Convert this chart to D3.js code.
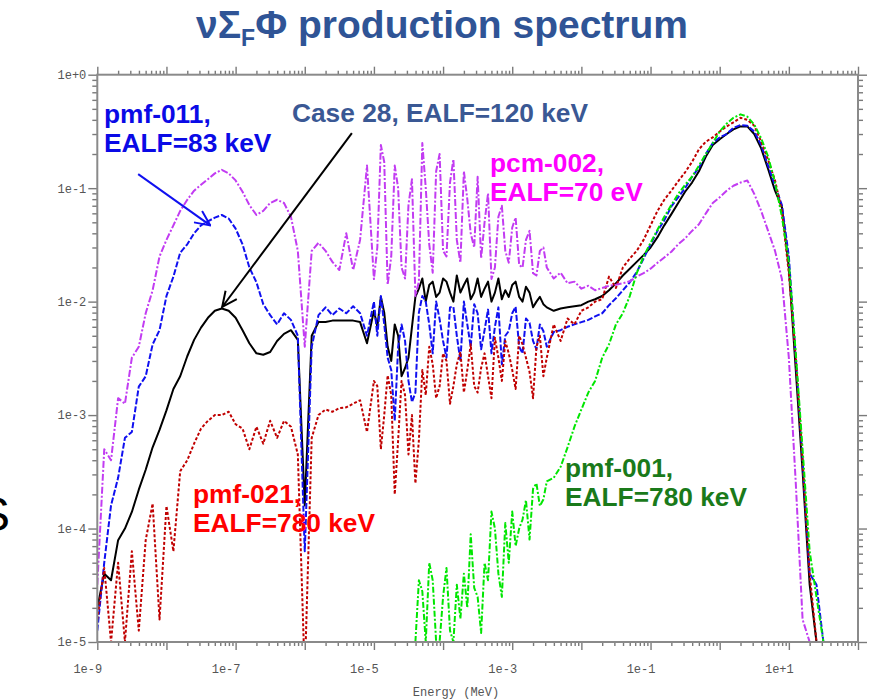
<!DOCTYPE html>
<html>
<head>
<meta charset="utf-8">
<script src="https://cdn.jsdelivr.net/npm/d3@7"></script>
<style>
body { margin: 0; background: #fff; }
svg { display: block; }
.note { font-family: "Liberation Sans", Arial, sans-serif; font-weight: bold; font-size: 26.3px; }
</style>
</head>
<body>
<svg id="chart" width="883" height="700"></svg>
<script>
// energy grid (MeV): tenth-of-a-decade steps, twentieth between 1e-5 and 3e-3
var energy = [
  1.00e-9,1.26e-9,1.58e-9,2.00e-9,2.51e-9,3.16e-9,3.98e-9,5.01e-9,6.31e-9,7.94e-9,
  1.00e-8,1.26e-8,1.58e-8,2.00e-8,2.51e-8,3.16e-8,3.98e-8,5.01e-8,6.31e-8,7.94e-8,
  1.00e-7,1.26e-7,1.58e-7,2.00e-7,2.51e-7,3.16e-7,3.98e-7,5.01e-7,6.31e-7,7.94e-7,
  1.00e-6,1.26e-6,1.58e-6,2.00e-6,2.51e-6,3.16e-6,3.98e-6,5.01e-6,6.31e-6,7.94e-6,
  1.00e-5,1.12e-5,1.26e-5,1.41e-5,1.58e-5,1.78e-5,2.00e-5,2.24e-5,2.51e-5,2.82e-5,
  3.16e-5,3.55e-5,3.98e-5,4.47e-5,5.01e-5,5.62e-5,6.31e-5,7.08e-5,7.94e-5,8.91e-5,
  1.00e-4,1.12e-4,1.26e-4,1.41e-4,1.58e-4,1.78e-4,2.00e-4,2.24e-4,2.51e-4,2.82e-4,
  3.16e-4,3.55e-4,3.98e-4,4.47e-4,5.01e-4,5.62e-4,6.31e-4,7.08e-4,7.94e-4,8.91e-4,
  1.00e-3,1.12e-3,1.26e-3,1.41e-3,1.58e-3,1.78e-3,2.00e-3,2.24e-3,2.51e-3,2.82e-3,
  3.16e-3,3.98e-3,5.01e-3,6.31e-3,7.94e-3,
  1.00e-2,1.26e-2,1.58e-2,2.00e-2,2.51e-2,3.16e-2,3.98e-2,5.01e-2,6.31e-2,7.94e-2,
  1.00e-1,1.26e-1,1.58e-1,2.00e-1,2.51e-1,3.16e-1,3.98e-1,5.01e-1,6.31e-1,7.94e-1,
  1.00e+0,1.26e+0,1.58e+0,2.00e+0,2.51e+0,3.16e+0,3.98e+0,5.01e+0,6.31e+0,7.94e+0,
  1.00e+1,1.26e+1,1.58e+1,2.00e+1,2.51e+1,3.16e+1,3.98e+1
];

// Case 28, EALF=120 keV (black, solid)
var case28 = [
  2.0e-5,4.0e-5,3.5e-5,7.9e-5,1.0e-4,1.4e-4,2.2e-4,3.3e-4,5.2e-4,7.4e-4,
  1.1e-3,1.7e-3,2.2e-3,3.3e-3,4.6e-3,5.9e-3,7.2e-3,8.3e-3,8.7e-3,8.3e-3,
  7.2e-3,5.6e-3,4.3e-3,3.5e-3,3.4e-3,3.6e-3,4.5e-3,5.2e-3,5.6e-3,4.6e-3,
  1.6e-4,5.0e-3,6.6e-3,6.6e-3,6.8e-3,6.8e-3,6.8e-3,6.8e-3,6.6e-3,4.3e-3,
  8.3e-3,6.0e-3,1.1e-2,8.0e-3,4.0e-3,3.0e-3,6.3e-3,5.0e-3,2.2e-3,2.6e-3,
  3.2e-3,6.0e-3,1.1e-2,1.3e-2,1.6e-2,1.0e-2,1.4e-2,1.5e-2,1.1e-2,1.2e-2,
  1.6e-2,1.5e-2,1.2e-2,1.0e-2,1.7e-2,1.2e-2,1.4e-2,1.6e-2,1.05e-2,1.2e-2,
  1.6e-2,1.1e-2,1.3e-2,1.5e-2,1.0e-2,1.2e-2,1.6e-2,1.05e-2,1.26e-2,1.1e-2,
  1.4e-2,1.5e-2,1.1e-2,1.0e-2,1.35e-2,1.2e-2,8.9e-3,1.0e-2,1.1e-2,9.5e-3,
  8.9e-3,8.3e-3,8.7e-3,8.9e-3,9.1e-3,
  9.3e-3,1.0e-2,1.05e-2,1.12e-2,1.26e-2,1.45e-2,1.7e-2,1.95e-2,2.24e-2,2.57e-2,
  3.0e-2,3.7e-2,4.7e-2,5.9e-2,7.4e-2,9.3e-2,0.112,0.141,0.19,0.24,
  0.27,0.30,0.33,0.35,0.35,0.30,0.224,0.148,0.095,0.068,
  0.02,2.5e-3,3.2e-4,3.2e-5,1.0e-5,null,null
];

// pmf-011, EALF=83 keV (blue, dashed)
var pmf011 = [
  1.26e-5,5.0e-5,1.6e-4,2.8e-4,6.3e-4,7.1e-4,1.78e-3,2.2e-3,4.2e-3,5.6e-3,
  1.12e-2,1.66e-2,2.7e-2,3.2e-2,4.0e-2,4.7e-2,5.1e-2,5.5e-2,5.8e-2,5.4e-2,
  4.4e-2,3.2e-2,2.0e-2,1.48e-2,9.5e-3,7.6e-3,6.3e-3,7.9e-3,6.9e-3,5.0e-3,
  6.3e-5,4.0e-3,7.6e-3,8.9e-3,7.6e-3,8.7e-3,7.9e-3,9.1e-3,7.9e-3,5.0e-3,
  1.0e-2,5.0e-3,1.12e-2,6.3e-3,3.2e-3,2.5e-3,8.9e-4,4.0e-3,6.3e-3,4.5e-3,
  2.0e-3,1.3e-3,1.58e-3,8.0e-3,1.12e-2,1.0e-2,6.3e-3,3.5e-3,1.0e-2,7.0e-3,
  4.5e-3,3.2e-3,8.9e-3,9.0e-3,5.0e-3,3.0e-3,1.0e-2,6.3e-3,4.0e-3,9.5e-3,
  7.9e-3,3.8e-3,5.6e-3,8.5e-3,3.5e-3,6.0e-3,8.9e-3,2.8e-3,5.0e-3,5.5e-3,
  7.9e-3,9.0e-3,4.0e-3,3.5e-3,7.1e-3,6.5e-3,4.5e-3,3.8e-3,6.3e-3,5.5e-3,
  4.0e-3,5.4e-3,5.6e-3,6.0e-3,6.3e-3,
  6.6e-3,6.9e-3,7.4e-3,7.9e-3,9.3e-3,1.07e-2,1.26e-2,1.48e-2,1.82e-2,2.4e-2,
  3.2e-2,4.2e-2,5.2e-2,6.9e-2,8.3e-2,0.10,0.126,0.151,0.20,0.25,
  0.28,0.30,0.34,0.36,0.355,0.316,0.24,0.158,0.105,0.071,
  0.025,3.2e-3,4.0e-4,4.0e-5,3.2e-5,1.0e-5,null
];

// pcm-002, EALF=70 eV (violet, dash-dot)
var pcm002 = [
  3.2e-5,5.0e-4,4.0e-4,1.41e-3,1.26e-3,3.2e-3,4.0e-3,7.9e-3,1.26e-2,2.5e-2,
  3.5e-2,4.7e-2,6.3e-2,7.9e-2,9.5e-2,0.107,0.12,0.135,0.145,0.135,
  0.117,9.3e-2,7.1e-2,5.8e-2,6.3e-2,7.4e-2,7.9e-2,7.4e-2,5.6e-2,2.8e-2,
  4.0e-3,2.8e-2,3.3e-2,2.8e-2,2.24e-2,1.9e-2,4.0e-2,1.9e-2,3.5e-2,0.158,
  1.58e-2,3.0e-2,0.24,0.17,1.41e-2,2.5e-2,0.158,0.10,2.0e-2,1.6e-2,
  7.1e-2,0.12,1.12e-2,1.5e-2,0.25,0.10,3.2e-2,1.8e-2,0.141,0.20,
  2.8e-2,2.5e-2,0.112,0.18,3.5e-2,2.2e-2,0.141,8.0e-2,4.0e-2,3.0e-2,
  0.126,2.4e-2,5.0e-2,9.0e-2,1.58e-2,2.0e-2,5.6e-2,7.0e-2,2.8e-2,2.2e-2,
  4.5e-2,5.5e-2,2.1e-2,2.0e-2,3.5e-2,4.2e-2,1.78e-2,1.7e-2,2.8e-2,3.0e-2,
  2.0e-2,1.6e-2,1.8e-2,1.45e-2,1.5e-2,
  1.3e-2,1.38e-2,1.26e-2,1.32e-2,1.38e-2,1.41e-2,1.45e-2,1.51e-2,1.66e-2,1.78e-2,
  1.95e-2,2.2e-2,2.45e-2,2.75e-2,3.2e-2,3.6e-2,4.2e-2,4.8e-2,6.0e-2,7.4e-2,
  8.3e-2,9.5e-2,0.105,0.112,0.117,8.9e-2,6.3e-2,4.2e-2,2.8e-2,1.58e-2,
  3.2e-3,2.5e-4,1.58e-5,1.0e-5,null,null,null
];

// pmf-021, EALF=780 keV (dark red, dotted)
var pmf021 = [
  1.58e-5,4.5e-5,1.0e-5,5.0e-5,1.0e-5,6.3e-5,1.26e-5,7.9e-5,1.66e-4,1.58e-5,
  1.58e-4,6.3e-5,3.2e-4,4.0e-4,5.6e-4,7.6e-4,8.9e-4,1.0e-3,1.0e-3,1.07e-3,
  8.3e-4,7.6e-4,5.0e-4,7.9e-4,5.6e-4,8.9e-4,6.3e-4,8.9e-4,7.9e-4,4.5e-4,
  5.0e-6,6.3e-4,1.0e-3,1.12e-3,1.07e-3,1.15e-3,1.17e-3,1.26e-3,1.35e-3,7.1e-4,
  2.0e-3,1.8e-3,5.0e-4,1.0e-3,2.24e-3,1.5e-3,2.0e-4,6.0e-4,2.0e-3,1.5e-3,
  4.5e-4,1.0e-3,2.5e-4,6.0e-4,2.5e-3,1.5e-3,4.0e-3,2.8e-3,1.41e-3,1.8e-3,
  3.5e-3,3.0e-3,1.26e-3,1.8e-3,2.8e-3,3.6e-3,1.58e-3,2.5e-3,4.2e-3,1.8e-3,
  1.58e-3,2.6e-3,3.5e-3,2.2e-3,1.41e-3,4.8e-3,3.2e-3,2.0e-3,4.5e-3,3.5e-3,
  2.5e-3,1.7e-3,5.0e-3,4.2e-3,3.2e-3,2.4e-3,1.41e-3,4.0e-3,5.0e-3,2.2e-3,
  3.2e-3,6.3e-3,4.5e-3,7.1e-3,6.3e-3,
  8.3e-3,8.9e-3,1.0e-2,1.05e-2,1.66e-2,1.32e-2,2.0e-2,2.4e-2,2.8e-2,3.5e-2,
  4.7e-2,6.3e-2,7.9e-2,9.5e-2,0.115,0.138,0.17,0.22,0.257,0.28,
  0.316,0.35,0.38,0.417,0.40,0.355,0.257,0.178,0.117,6.3e-2,
  1.78e-2,3.2e-3,4.0e-4,4.0e-5,1.0e-5,null,null
];

// pmf-001, EALF=780 keV (green, dashed)
var pmf001 = [
  null,null,null,null,null,null,null,null,null,null,
  null,null,null,null,null,null,null,null,null,null,
  null,null,null,null,null,null,null,null,null,null,
  null,null,null,null,null,null,null,null,null,null,
  null,null,null,null,null,null,null,null,null,null,
  null,null,1.0e-5,3.5e-5,2.8e-5,1.0e-5,5.0e-5,3.5e-5,1.0e-5,1.0e-5,
  2.5e-5,4.5e-5,1.26e-5,1.0e-5,3.2e-5,1.6e-5,4.0e-5,2.0e-5,8.9e-5,3.0e-5,
  2.5e-5,1.2e-5,5.0e-5,3.5e-5,1.41e-4,1.0e-4,4.0e-5,2.5e-5,1.12e-4,5.0e-5,
  1.41e-4,7.0e-5,1.0e-4,1.2e-4,1.78e-4,8.0e-5,2.24e-4,2.5e-4,1.58e-4,1.8e-4,
  2.6e-4,2.8e-4,3.5e-4,5.2e-4,7.9e-4,
  1.12e-3,1.58e-3,2.0e-3,3.2e-3,4.2e-3,6.3e-3,7.9e-3,1.12e-2,1.78e-2,2.5e-2,
  3.3e-2,4.3e-2,5.6e-2,7.1e-2,8.9e-2,0.107,0.126,0.158,0.2,0.25,
  0.316,0.37,0.417,0.447,0.427,0.363,0.275,0.19,0.112,5.6e-2,
  2.24e-2,3.5e-3,5.0e-4,6.3e-5,2.5e-5,1.0e-5,null
];

var xDecades = [1e-9,1e-8,1e-7,1e-6,1e-5,1e-4,1e-3,1e-2,1e-1,1e+0,1e+1,1e+2];
var xLabelValues = [1e-9,1e-7,1e-5,1e-3,1e-1,1e+1];
var xLabels = ["1e-9","1e-7","1e-5","1e-3","1e-1","1e+1"];
var yDecades = [1e-5,1e-4,1e-3,1e-2,1e-1,1e+0];
var yLabelValues = [1e+0,1e-1,1e-2,1e-3,1e-4,1e-5];
var yLabels = ["1e+0","1e-1","1e-2","1e-3","1e-4","1e-5"];

var plotLeft = 97.3, plotRight = 858, plotTop = 74.7, plotBottom = 642;

var svg = d3.select("#chart");

var x = d3.scaleLog().domain([1e-9, 1e2]).range([plotLeft, plotRight]);
var y = d3.scaleLog().domain([1e-5, 1]).range([plotBottom, plotTop]);

function minors(decades) {
  var out = [];
  decades.slice(0, -1).forEach(function(d) {
    for (var m = 2; m <= 9; m++) out.push(m * d);
  });
  return out;
}
var xMinor = minors(xDecades), yMinor = minors(yDecades);

var tickColor = "#7a7a7a";
function styleAxis(g) {
  g.select(".domain").remove();
  g.selectAll(".tick line").attr("stroke", tickColor).attr("stroke-width", 1.4);
  g.selectAll(".tick text")
    .attr("fill", "#555")
    .style("font-family", "'Liberation Mono', 'Courier New', monospace")
    .style("font-size", "12px");
}

// bottom
svg.append("g").attr("transform", "translate(0," + plotBottom + ")")
  .call(d3.axisBottom(x).tickValues(xMinor).tickSize(4).tickFormat(""))
  .call(styleAxis);
svg.append("g").attr("transform", "translate(0," + plotBottom + ")")
  .call(d3.axisBottom(x).tickValues(xDecades).tickSize(8).tickPadding(14)
    .tickFormat(function(d) { var i = xLabelValues.indexOf(d); return i < 0 ? "" : xLabels[i]; }))
  .call(styleAxis)
  .selectAll(".tick text").attr("dx", -10);
// top
svg.append("g").attr("transform", "translate(0," + plotTop + ")")
  .call(d3.axisTop(x).tickValues(xMinor).tickSize(4).tickFormat(""))
  .call(styleAxis);
svg.append("g").attr("transform", "translate(0," + plotTop + ")")
  .call(d3.axisTop(x).tickValues(xDecades).tickSize(8).tickFormat(""))
  .call(styleAxis);
// left
svg.append("g").attr("transform", "translate(" + plotLeft + ",0)")
  .call(d3.axisLeft(y).tickValues(yMinor).tickSize(5).tickFormat(""))
  .call(styleAxis);
svg.append("g").attr("transform", "translate(" + plotLeft + ",0)")
  .call(d3.axisLeft(y).tickValues(yDecades).tickSize(9).tickPadding(2)
    .tickFormat(function(d) { var i = yLabelValues.indexOf(d); return i < 0 ? "" : yLabels[i]; }))
  .call(styleAxis);
// right
svg.append("g").attr("transform", "translate(" + plotRight + ",0)")
  .call(d3.axisRight(y).tickValues(yMinor).tickSize(5).tickFormat(""))
  .call(styleAxis);
svg.append("g").attr("transform", "translate(" + plotRight + ",0)")
  .call(d3.axisRight(y).tickValues(yDecades).tickSize(9).tickFormat(""))
  .call(styleAxis);

svg.append("text")
  .attr("x", 456).attr("y", 696)
  .attr("text-anchor", "middle")
  .attr("fill", "#555")
  .style("font-family", "'Liberation Mono', 'Courier New', monospace")
  .style("font-size", "12px")
  .text("Energy (MeV)");

// curves
svg.append("clipPath").attr("id", "plotclip")
  .append("rect").attr("x", plotLeft).attr("y", plotTop)
  .attr("width", plotRight - plotLeft).attr("height", plotBottom - plotTop);

var series = [
  {name: "case28", values: case28, color: "#000000", dash: null, width: 2},
  {name: "pmf011", values: pmf011, color: "#1010f0", dash: "6,2", width: 2},
  {name: "pmf021", values: pmf021, color: "#c00000", dash: "3,2", width: 2},
  {name: "pcm002", values: pcm002, color: "#c23cf2", dash: "7,2,2,2", width: 2},
  {name: "pmf001", values: pmf001, color: "#00e600", dash: "6,2,2,2", width: 2}
];

var line = d3.line()
  .defined(function(d) { return d[1] != null; })
  .x(function(d) { return x(d[0]); })
  .y(function(d) { return y(Math.max(d[1], 5e-6)); });

var plot = svg.append("g").attr("clip-path", "url(#plotclip)");
plot.selectAll("path.curve")
  .data(series)
  .enter().append("path")
  .attr("class", "curve")
  .attr("fill", "none")
  .attr("stroke", function(d) { return d.color; })
  .attr("stroke-width", function(d) { return d.width; })
  .attr("stroke-dasharray", function(d) { return d.dash; })
  .attr("stroke-linejoin", "round")
  .attr("d", function(d) {
    return line(energy.map(function(e, i) { return [e, d.values[i]]; }));
  });

// frame
svg.append("rect")
  .attr("x", plotLeft).attr("y", plotTop)
  .attr("width", plotRight - plotLeft).attr("height", plotBottom - plotTop)
  .attr("fill", "none").attr("stroke", "#8a8a8a").attr("stroke-width", 2);

// title
var title = svg.append("text")
  .attr("x", 442).attr("y", 38)
  .attr("text-anchor", "middle")
  .attr("fill", "#2f5496")
  .style("font-family", "'Liberation Sans', Arial, sans-serif")
  .style("font-weight", "bold")
  .style("font-size", "39px");
title.append("tspan").text("\u03bd\u03a3");
title.append("tspan").attr("dy", 8).style("font-size", "23px").text("F");
title.append("tspan").attr("dy", -8).text("\u03a6 production spectrum");

// annotations
function note(lines, px, py, color) {
  var t = svg.append("text").attr("class", "note").attr("fill", color);
  lines.forEach(function(s, i) {
    t.append("tspan").attr("x", px).attr("y", py + i * 29).text(s);
  });
}
note(["pmf-011,", "EALF=83 keV"], 104, 123, "#0a0ae6");
note(["Case 28, EALF=120 keV"], 292, 122, "#3a5894");
note(["pcm-002,", "EALF=70 eV"], 490, 172, "#ff00ff");
note(["pmf-021,", "EALF=780 keV"], 193, 503, "#ff0000");
note(["pmf-001,", "EALF=780 keV"], 565, 477, "#1a7a1a");

// partial glyph at left edge of the slide
svg.append("text").attr("x", -22).attr("y", 531)
  .attr("fill", "#000")
  .style("font-family", "'Liberation Sans', Arial, sans-serif")
  .style("font-size", "48px").text("S");

// arrows pointing at curves
var defs = svg.append("defs");
function arrowMarker(id, color) {
  defs.append("marker").attr("id", id)
    .attr("viewBox", "-1 -8 17 16")
    .attr("markerUnits", "userSpaceOnUse")
    .attr("markerWidth", 17).attr("markerHeight", 16)
    .attr("refX", 15).attr("refY", 0)
    .attr("orient", "auto")
    .append("path").attr("d", "M0,-7L15,0L0,7")
    .attr("fill", "none").attr("stroke", color).attr("stroke-width", 2);
}
arrowMarker("headBlue", "#1010f0");
arrowMarker("headBlack", "#000");

var arrows = [
  {from: [3.9e-9, 0.133], to: [4.3e-8, 0.047], color: "#1010f0", head: "headBlue"},
  {from: [4.8e-6, 0.306], to: [6.4e-8, 8.97e-3], color: "#000", head: "headBlack"}
];
svg.selectAll("line.arrow").data(arrows).enter().append("line")
  .attr("class", "arrow")
  .attr("x1", function(d) { return x(d.from[0]); })
  .attr("y1", function(d) { return y(d.from[1]); })
  .attr("x2", function(d) { return x(d.to[0]); })
  .attr("y2", function(d) { return y(d.to[1]); })
  .attr("stroke", function(d) { return d.color; })
  .attr("stroke-width", 2)
  .attr("marker-end", function(d) { return "url(#" + d.head + ")"; });
</script>
</body>
</html>
